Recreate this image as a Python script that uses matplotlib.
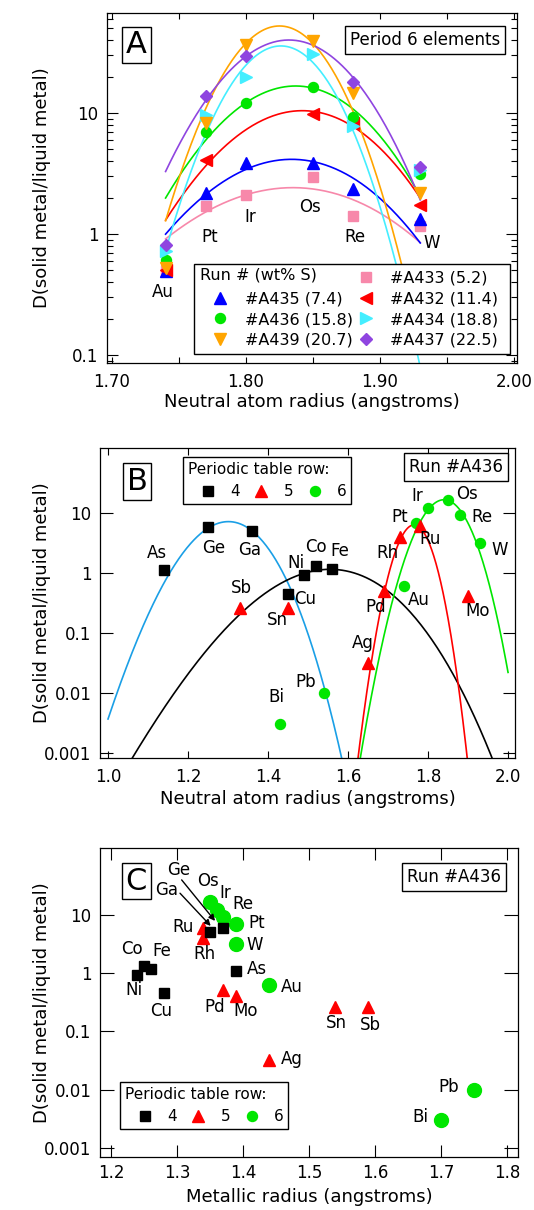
import numpy as np
import matplotlib
matplotlib.use('Agg')
import matplotlib.pyplot as plt
from matplotlib.lines import Line2D
from matplotlib.ticker import FixedLocator, FuncFormatter, NullLocator, NullFormatter

plt.rcParams['font.family'] = ['DejaVu Sans']

# ---------------- panel A : period 6 elements, all runs ----------------
elem_A = ['Au', 'Pt', 'Ir', 'Os', 'Re', 'W']
rad_A = [1.74, 1.77, 1.80, 1.85, 1.88, 1.93]

run_names = ['#A433 (5.2)', '#A435 (7.4)', '#A432 (11.4)', '#A436 (15.8)',
             '#A434 (18.8)', '#A439 (20.7)', '#A437 (22.5)']
D_A433 = [0.50, 1.70, 2.10, 2.97, 1.41, 1.17]
D_A435 = [0.49, 2.18, 3.86, 3.86, 2.35, 1.32]
D_A432 = [0.50, 4.10, np.nan, 9.9, 8.3, 1.74]
D_A436 = [0.61, 6.9, 12.0, 16.3, 9.2, 3.11]
D_A434 = [0.72, 9.6, 19.7, 31.0, 7.8, 3.4]
D_A439 = [0.52, 8.3, 36.5, 39.6, 14.7, 2.17]
D_A437 = [0.81, 13.8, 29.5, np.nan, 17.9, 3.6]

# lattice strain fits: peak radius, log10 peak D, strain term
fitA_r0 = [1.835, 1.834, 1.842, 1.837, 1.826, 1.825, 1.832]
fitA_logD0 = [0.383, 0.617, 1.019, 1.223, 1.554, 1.719, 1.603]
fitA_c = [53, 79, 98, 111, 259, 252, 145]
fitA_range = (1.74, 1.93)

# ---------------- panels B and C : run #A436, by periodic table row ----------------
row4_el = ['As', 'Ge', 'Ga', 'Cu', 'Ni', 'Co', 'Fe']
row4_neutral = [1.14, 1.25, 1.36, 1.45, 1.49, 1.52, 1.56]
row4_metallic = [1.39, 1.37, 1.35, 1.28, 1.24, 1.25, 1.26]
row4_D = [1.10, 5.8, 5.0, 0.45, 0.91, 1.30, 1.18]

row5_el = ['Sb', 'Sn', 'Ag', 'Pd', 'Rh', 'Ru', 'Mo']
row5_neutral = [1.33, 1.45, 1.65, 1.69, 1.73, 1.78, 1.90]
row5_metallic = [1.59, 1.54, 1.44, 1.37, 1.34, 1.34, 1.39]
row5_D = [0.26, 0.26, 0.032, 0.50, 3.9, 6.0, 0.41]

row6_el = ['Bi', 'Pb', 'Au', 'Pt', 'Ir', 'Os', 'Re', 'W']
row6_neutral = [1.43, 1.54, 1.74, 1.77, 1.80, 1.85, 1.88, 1.93]
row6_metallic = [1.70, 1.75, 1.44, 1.39, 1.36, 1.35, 1.37, 1.39]
row6_D = [0.003, 0.010, 0.61, 6.9, 12.0, 16.3, 9.2, 3.1]

# fits in panel B (Ge-Ga curve, row 4 transition metals, row 5, row 6)
fitB_r0 = [1.301, 1.555, 1.765, 1.840]
fitB_logD0 = [0.855, 0.06, 0.80, 1.22]
fitB_c = [66, 21, 237, 115.5]
fitB_lo = [1.00, 1.00, 1.60, 1.60]
fitB_hi = [1.60, 2.00, 1.95, 2.00]

GREEN = '#00e600'
RED = '#ff0000'
colA = ['#f788aa', '#0000ff', '#ff0000', '#00e600', '#44eeff', '#ffa500', '#8f45e0']
mkA = ['s', '^', '<', 'o', '>', 'v', 'D']
msA = [7.2, 8.4, 8.4, 7.2, 8.4, 8.4, 6.4]
colB = ['#1a9fe6', 'black', RED, GREEN]


def strain(r, r0, logd0, c):
    d = r - r0
    return 10 ** (logd0 - c * (r0 / 2 * d ** 2 + d ** 3 / 3))


def fmt_g(v, pos):
    return '%g' % v


def box_letter(ax, x, y, s):
    ax.text(x, y, s, transform=ax.transAxes, fontsize=22, ha='center', va='center',
            bbox=dict(boxstyle='square,pad=0.12', fc='white', ec='black', lw=1.0), zorder=7)


def box_note(ax, x, y, s):
    ax.text(x, y, s, transform=ax.transAxes, fontsize=12, ha='center', va='center',
            bbox=dict(boxstyle='square,pad=0.3', fc='white', ec='black', lw=1.0), zorder=7)


def style_log_axis(ax, xlen, ylen):
    ax.set_yscale('log')
    ax.tick_params(which='both', direction='in', top=True, right=True, width=0.8,
                   labelsize=12)
    ax.tick_params(axis='x', which='major', length=xlen, pad=7)
    ax.tick_params(axis='y', which='major', length=ylen, pad=6)
    for sp in ax.spines.values():
        sp.set_linewidth(0.9)


fig = plt.figure(figsize=(5.34, 12.10), dpi=100)

# ======================= A =======================
axA = fig.add_axes([0.2004, 0.7000, 0.7678, 0.2895])
style_log_axis(axA, 4.3, 8)
rr = np.linspace(fitA_range[0], fitA_range[1], 200)
series_A = [D_A433, D_A435, D_A432, D_A436, D_A434, D_A439, D_A437]
handles = {}
for i, name in enumerate(run_names):
    axA.plot(rr, strain(rr, fitA_r0[i], fitA_logD0[i], fitA_c[i]), color=colA[i], lw=1.2, zorder=2)
for i, name in enumerate(run_names):
    h, = axA.plot(rad_A, series_A[i], linestyle='none', marker=mkA[i], ms=msA[i],
                  color=colA[i], mec=colA[i], zorder=3)
    handles[name] = h
axA.set_xlim(1.6963, 2.0022)
axA.set_ylim(0.0859, 67.4)
axA.xaxis.set_major_locator(FixedLocator([1.70, 1.75, 1.80, 1.85, 1.90, 1.95, 2.00]))
axA.xaxis.set_major_formatter(FuncFormatter(lambda v, p: '%.2f' % v if abs(v * 10 - round(v * 10)) < 1e-6 else ''))
axA.yaxis.set_major_locator(FixedLocator([0.1, 1, 10]))
axA.yaxis.set_major_formatter(FuncFormatter(fmt_g))
minA = [0.09] + [k * 0.1 for k in range(2, 10)] + list(range(2, 10)) + [20, 30, 40, 50, 60]
axA.yaxis.set_minor_locator(FixedLocator(minA))
axA.yaxis.set_minor_formatter(NullFormatter())
axA.tick_params(axis='y', which='minor', length=4.3)
axA.set_xlabel('Neutral atom radius (angstroms)', fontsize=13)
axA.set_ylabel('D(solid metal/liquid metal)', fontsize=13)
axA.xaxis.set_label_coords(0.5, -0.085)
axA.yaxis.set_label_coords(-0.137, 0.5)

labA = {'Au': (1.738, 0.33), 'Pt': (1.773, 0.94), 'Ir': (1.8035, 1.39),
        'Os': (1.848, 1.68), 'Re': (1.881, 0.94), 'W': (1.9386, 0.85)}
for k, (x, y) in labA.items():
    axA.text(x, y, k, fontsize=12, ha='center', va='center', zorder=4)

blank = Line2D([], [], linestyle='none')
order = [blank, handles['#A435 (7.4)'], handles['#A436 (15.8)'], handles['#A439 (20.7)'],
         handles['#A433 (5.2)'], handles['#A432 (11.4)'], handles['#A434 (18.8)'], handles['#A437 (22.5)']]
labels = [' ', '#A435 (7.4)', '#A436 (15.8)', '#A439 (20.7)',
          '#A433 (5.2) ', '#A432 (11.4) ', '#A434 (18.8) ', '#A437 (22.5) ']
legA = axA.legend(order, labels, ncol=2, loc='lower right', bbox_to_anchor=(0.983, 0.0257),
                  borderaxespad=0, fontsize=11.5, handlelength=2.5, handletextpad=0.3,
                  columnspacing=-0.45, borderpad=0.4, labelspacing=0.35,
                  fancybox=False, edgecolor='black', framealpha=1)
legA.get_frame().set_linewidth(1.0)
legA.set_zorder(5)
axA.text(0.2268, 0.2512, 'Run # (wt% S)', transform=axA.transAxes, fontsize=11.5,
         ha='left', va='center', zorder=6)
box_letter(axA, 0.072, 0.908, 'A')
box_note(axA, 0.776, 0.9235, 'Period 6 elements')


# ======================= B =======================
def row_handles():
    return [Line2D([], [], linestyle='none', marker='s', ms=7.2, color='black'),
            Line2D([], [], linestyle='none', marker='^', ms=8.0, color=RED),
            Line2D([], [], linestyle='none', marker='o', ms=7.2, color=GREEN)]


def row_legend(ax, anchor):
    leg = ax.legend(row_handles(), ['4', '5', '6'], ncol=3, title='Periodic table row:',
                    title_fontsize=11, fontsize=11, loc='upper left', bbox_to_anchor=anchor,
                    borderaxespad=0, handlelength=2.7, handletextpad=0.1, columnspacing=0.05,
                    borderpad=0.3, alignment='left', fancybox=False, edgecolor='black',
                    framealpha=1)
    leg.get_frame().set_linewidth(1.0)
    leg.set_zorder(5)
    return leg


axB = fig.add_axes([0.1873, 0.3736, 0.7772, 0.2562])
style_log_axis(axB, 5, 9)
for i in range(4):
    r = np.linspace(fitB_lo[i], fitB_hi[i], 300)
    axB.plot(r, strain(r, fitB_r0[i], fitB_logD0[i], fitB_c[i]), color=colB[i], lw=1.2, zorder=2)
axB.plot(row6_neutral, row6_D, linestyle='none', marker='o', ms=7.2, color=GREEN, zorder=3)
axB.plot(row5_neutral, row5_D, linestyle='none', marker='^', ms=8.0, color=RED, zorder=3)
axB.plot(row4_neutral, row4_D, linestyle='none', marker='s', ms=7.2, color='black', zorder=3)
axB.set_xlim(0.98, 2.0175)
axB.set_ylim(0.000825, 121)
axB.xaxis.set_major_locator(FixedLocator([1.0, 1.2, 1.4, 1.6, 1.8, 2.0]))
axB.xaxis.set_major_formatter(FuncFormatter(lambda v, p: '%.1f' % v))
axB.yaxis.set_major_locator(FixedLocator([0.001, 0.01, 0.1, 1, 10]))
axB.yaxis.set_major_formatter(FuncFormatter(fmt_g))
axB.yaxis.set_minor_locator(NullLocator())
axB.set_xlabel('Neutral atom radius (angstroms)', fontsize=13)
axB.set_ylabel('D(solid metal/liquid metal)', fontsize=13)
axB.xaxis.set_label_coords(0.5, -0.105)
axB.yaxis.set_label_coords(-0.118, 0.5)

labB = {'As': (1.122, 2.18), 'Ge': (1.263, 2.6), 'Ga': (1.355, 2.4), 'Ni': (1.469, 1.48),
        'Co': (1.52, 2.75), 'Fe': (1.58, 2.35), 'Sb': (1.334, 0.556), 'Cu': (1.4925, 0.37),
        'Sn': (1.423, 0.165), 'Pb': (1.494, 0.0154), 'Bi': (1.42, 0.0085), 'Ag': (1.638, 0.067),
        'Pd': (1.67, 0.27), 'Au': (1.778, 0.355), 'Mo': (1.924, 0.235), 'Rh': (1.698, 2.18),
        'Ru': (1.805, 3.65), 'Pt': (1.728, 8.7), 'Ir': (1.772, 19.2), 'Os': (1.897, 20.7),
        'Re': (1.934, 8.7), 'W': (1.978, 2.4)}
for k, (x, y) in labB.items():
    axB.text(x, y, k, fontsize=12, ha='center', va='center', zorder=4)
row_legend(axB, (0.2, 0.971))
box_letter(axB, 0.089, 0.892, 'B')
box_note(axB, 0.857, 0.939, 'Run #A436')

# ======================= C =======================
axC = fig.add_axes([0.1873, 0.0438, 0.7828, 0.2554])
style_log_axis(axC, 8.5, 10)
axC.plot(row6_metallic, row6_D, linestyle='none', marker='o', ms=10, color=GREEN, zorder=3)
axC.plot(row5_metallic, row5_D, linestyle='none', marker='^', ms=8.0, color=RED, zorder=3)
axC.plot(row4_metallic, row4_D, linestyle='none', marker='s', ms=7.2, color='black', zorder=3)
axC.set_xlim(1.1833, 1.8167)
axC.set_ylim(0.000698, 139)
axC.xaxis.set_major_locator(FixedLocator([1.2, 1.3, 1.4, 1.5, 1.6, 1.7, 1.8]))
axC.xaxis.set_major_formatter(FuncFormatter(lambda v, p: '%.1f' % v))
axC.yaxis.set_major_locator(FixedLocator([0.001, 0.01, 0.1, 1, 10]))
axC.yaxis.set_major_formatter(FuncFormatter(fmt_g))
axC.yaxis.set_minor_locator(NullLocator())
axC.tick_params(axis='x', which='major', pad=5)
axC.set_xlabel('Metallic radius (angstroms)', fontsize=13)
axC.set_ylabel('D(solid metal/liquid metal)', fontsize=13)
axC.xaxis.set_label_coords(0.5, -0.1)
axC.yaxis.set_label_coords(-0.117, 0.5)

labC = {'Os': (1.347, 37.8), 'Ir': (1.373, 23.3), 'Re': (1.3995, 15.3), 'Pt': (1.4207, 7.3),
        'W': (1.418, 3.0), 'Ru': (1.3086, 6.1), 'Rh': (1.341, 2.12), 'Co': (1.231, 2.55),
        'Fe': (1.277, 2.38), 'Ni': (1.234, 0.50), 'Cu': (1.276, 0.226), 'As': (1.4207, 1.17),
        'Au': (1.474, 0.57), 'Pd': (1.3576, 0.258), 'Mo': (1.404, 0.226), 'Sn': (1.542, 0.14),
        'Sb': (1.5935, 0.128), 'Ag': (1.474, 0.033), 'Pb': (1.711, 0.011), 'Bi': (1.669, 0.00335)}
for k, (x, y) in labC.items():
    axC.text(x, y, k, fontsize=12, ha='center', va='center', zorder=4)
# Ge and Ga are crowded: labels with arrows
arrowsC = {'Ge': ((1.302, 58.5), (1.307, 39.4), (1.3576, 7.8)),
           'Ga': ((1.284, 26.5), (1.3045, 23.3), (1.351, 6.4))}
for k, (txt, start, end) in arrowsC.items():
    axC.text(txt[0], txt[1], k, fontsize=12, ha='center', va='center', zorder=4)
    axC.annotate('', xy=end, xytext=start,
                 arrowprops=dict(arrowstyle='-|>', color='black', lw=1.0, mutation_scale=9,
                                 shrinkA=0, shrinkB=0), zorder=4)
row_legend(axC, (0.0478, 0.2427))
box_letter(axC, 0.087, 0.893, 'C')
box_note(axC, 0.847, 0.906, 'Run #A436')

fig.savefig('out.png', dpi=100)
